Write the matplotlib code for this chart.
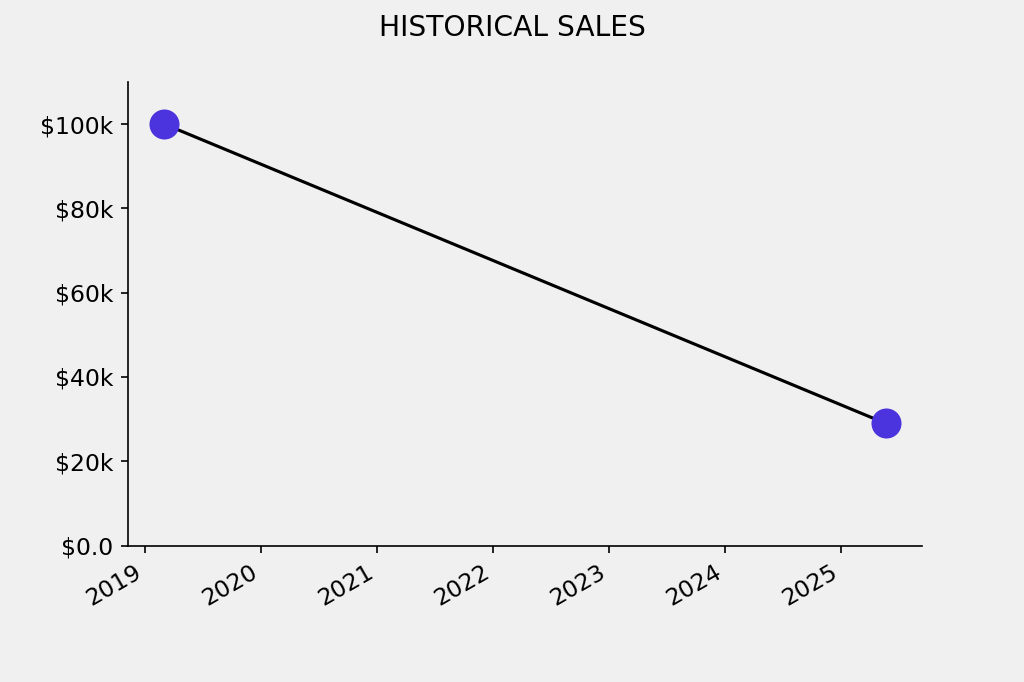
import matplotlib
matplotlib.use("Agg")
import matplotlib.pyplot as plt
import matplotlib.dates as mdates
from matplotlib.ticker import FuncFormatter
import pandas as pd

plt.rcParams["font.size"] = 11.25

# 데이터
dates = pd.to_datetime(["2019-03-01", "2025-05-20"])
sales = [100000, 29000]


def money(x, pos):
    if abs(x) >= 1000:
        return f"${x/1000:.0f}k"
    return f"${x:.1f}"


fig, ax = plt.subplots(figsize=(1024 / 150, 682 / 150), dpi=150)
fig.patch.set_facecolor("#f0f0f0")
ax.set_facecolor("#f0f0f0")

ax.plot(dates, sales, color="black", linewidth=1.5, zorder=1)
ax.scatter(dates, sales, s=180, color="#4b33dd", zorder=2)

ax.set_ylim(0, max(sales) * 1.1)
ax.yaxis.set_major_formatter(FuncFormatter(money))
ax.xaxis.set_major_locator(mdates.YearLocator())
ax.xaxis.set_major_formatter(mdates.DateFormatter("%Y"))

ax.spines["top"].set_visible(False)
ax.spines["right"].set_visible(False)

fig.suptitle("HISTORICAL SALES")
fig.autofmt_xdate()

fig.savefig("out.png", dpi=150, facecolor=fig.get_facecolor())
